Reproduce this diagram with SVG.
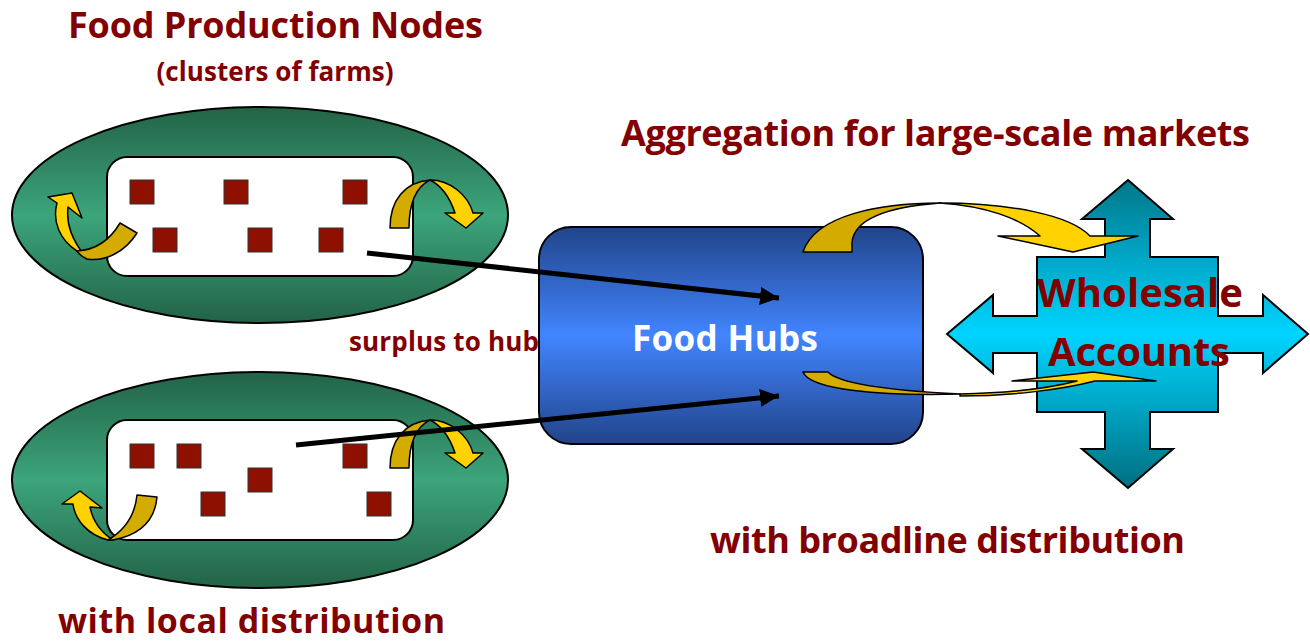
<svg xmlns="http://www.w3.org/2000/svg" width="1310" height="643" viewBox="0 0 1310 643">
<defs>
<linearGradient id="gGreen" x1="0" y1="0" x2="0" y2="1">
<stop offset="0" stop-color="#226346"/><stop offset="0.5" stop-color="#3ca57b"/><stop offset="1" stop-color="#226346"/>
</linearGradient>
<linearGradient id="gBlue" x1="0" y1="0" x2="0" y2="1">
<stop offset="0" stop-color="#21448a"/><stop offset="0.5" stop-color="#4285ff"/><stop offset="1" stop-color="#21448a"/>
</linearGradient>
<linearGradient id="gCyan" x1="0" y1="0" x2="0" y2="1">
<stop offset="0" stop-color="#00778a"/><stop offset="0.5" stop-color="#00d4ff"/><stop offset="1" stop-color="#006f80"/>
</linearGradient>
<marker id="ah" markerUnits="userSpaceOnUse" markerWidth="22" markerHeight="20" refX="19" refY="9" orient="auto">
<path d="M0,0 L19,9 L0,18 Z" fill="#000"/>
</marker>
<style>
.title{font-family:"Open Sans",Lato,sans-serif;font-weight:bold;fill:#820000;text-anchor:middle}
.ell{fill:url(#gGreen);stroke:#000;stroke-width:2}
.inner{fill:#fff;stroke:#000;stroke-width:2}
.farm{fill:#8e1000;stroke:#333;stroke-width:1}
.dk{fill:#d4ac00;stroke:#000;stroke-width:1.5;stroke-linejoin:round}
.br{fill:#ffd200;stroke:#000;stroke-width:1.5;stroke-linejoin:round}
.conn{stroke:#000;stroke-width:5;fill:none;marker-end:url(#ah)}
</style>
</defs>

<text class="title" x="275.5" y="38" font-size="36" textLength="415" lengthAdjust="spacing">Food Production Nodes</text>
<text class="title" x="275" y="81" font-size="26" textLength="237" lengthAdjust="spacing">(clusters of farms)</text>
<text class="title" x="935.5" y="146" font-size="36" textLength="629" lengthAdjust="spacing">Aggregation for large-scale markets</text>
<text class="title" x="444" y="351" font-size="26" textLength="190" lengthAdjust="spacing">surplus to hub</text>
<text class="title" x="947.5" y="553" font-size="36" textLength="475" lengthAdjust="spacing">with broadline distribution</text>
<text class="title" x="251.5" y="633" font-size="34" textLength="387" lengthAdjust="spacing">with local distribution</text>

<g id="node-top-cluster">
<ellipse class="ell" cx="260" cy="215" rx="248" ry="108"/>
<rect class="inner" x="107" y="157" width="306" height="119" rx="20"/>
<rect class="farm" x="130" y="180" width="24" height="24"/>
<rect class="farm" x="224" y="180" width="24" height="24"/>
<rect class="farm" x="343" y="180" width="24" height="24"/>
<rect class="farm" x="153" y="228" width="24" height="24"/>
<rect class="farm" x="248" y="228" width="24" height="24"/>
<rect class="farm" x="319" y="228" width="24" height="24"/>
<path class="br" d="M77,251 C60,240 52,222 57,203 L48,197 L72,193 L82,218 L68,207 C66,225 72,240 87,259 Z"/>
<path class="dk" d="M120,223 L137,233 C125,252 105,262 87,259 C82,257 79,254 77,251 C95,250 110,240 120,223 Z"/>
<path class="dk" d="M390,228 C390,200 405,182 430,180 C418,186 409,200 409,228 Z"/>
<path class="br" d="M430,180 C450,180 468,195 473,213 L483,213 L466,228 L445,213 L455,213 C450,198 442,186 430,180 Z"/>
</g>

<g id="node-bottom-cluster">
<ellipse class="ell" cx="260" cy="480" rx="248" ry="108"/>
<rect class="inner" x="107" y="420" width="306" height="120" rx="20"/>
<rect class="farm" x="130" y="444" width="24" height="24"/>
<rect class="farm" x="177" y="444" width="24" height="24"/>
<rect class="farm" x="343" y="444" width="24" height="24"/>
<rect class="farm" x="248" y="468" width="24" height="24"/>
<rect class="farm" x="201" y="492" width="24" height="24"/>
<rect class="farm" x="367" y="492" width="24" height="24"/>
<path class="br" d="M108,540 C88,535 75,520 73,504 L62,504 L80,491 L102,508 L90,507 C93,522 102,533 113,540 Z"/>
<path class="dk" d="M137,495 L157,497 C155,520 140,535 113,540 L108,540 C125,530 135,515 137,495 Z"/>
<path class="dk" d="M390,468 C390,440 405,422 430,420 C418,426 409,440 409,468 Z"/>
<path class="br" d="M430,420 C450,420 468,435 473,453 L483,453 L466,468 L445,453 L455,453 C450,438 442,426 430,420 Z"/>
</g>

<g id="node-food-hubs">
<rect x="539" y="227" width="384" height="217" rx="32" fill="url(#gBlue)" stroke="#000" stroke-width="2"/>
<text x="725" y="351" font-family="'Open Sans',Lato,sans-serif" font-weight="bold" font-size="35" fill="#fff" text-anchor="middle" textLength="186" lengthAdjust="spacing">Food Hubs</text>
</g>

<g id="node-wholesale">
<path d="M1128,180 L1173,219 L1150,219 L1150,257 L1218,257 L1218,316 L1263,316 L1263,295 L1308,334 L1263,373 L1263,353 L1218,353 L1218,412 L1150,412 L1150,449 L1173,449 L1128,488 L1082,449 L1105,449 L1105,412 L1037,412 L1037,353 L993,353 L993,373 L947,334 L993,295 L993,316 L1037,316 L1037,257 L1105,257 L1105,219 L1082,219 Z" fill="url(#gCyan)" stroke="#000" stroke-width="2" stroke-linejoin="miter"/>
</g>

<g id="connectors">
<line class="conn" x1="367" y1="253" x2="779" y2="298"/>
<line class="conn" x1="296" y1="445" x2="779" y2="396"/>
<path class="dk" d="M803,252 C815,215 880,203 940,203 C900,206 855,215 852,242 L852,252 Z"/>
<path class="br" d="M940,203 C1010,203 1070,215 1090,236 L1138,236 L1073,252 L998,236 L1040,236 C1020,218 985,206 940,203 Z"/>
<path class="dk" d="M803,372 L828,372 C840,385 900,391 960,394 C880,396 810,390 803,372 Z"/>
<path class="br" d="M960,394 C1010,393 1050,388 1077,381 L1012,381 L1093,372 L1156,381 L1095,381 C1060,390 1010,396 960,396 Z"/>
</g>

<g id="label-wholesale">
<text class="title" x="1140" y="307" font-size="40" textLength="206" lengthAdjust="spacing">Wholesale</text>
<text class="title" x="1139" y="366" font-size="40" textLength="182" lengthAdjust="spacing">Accounts</text>
</g>
</svg>
